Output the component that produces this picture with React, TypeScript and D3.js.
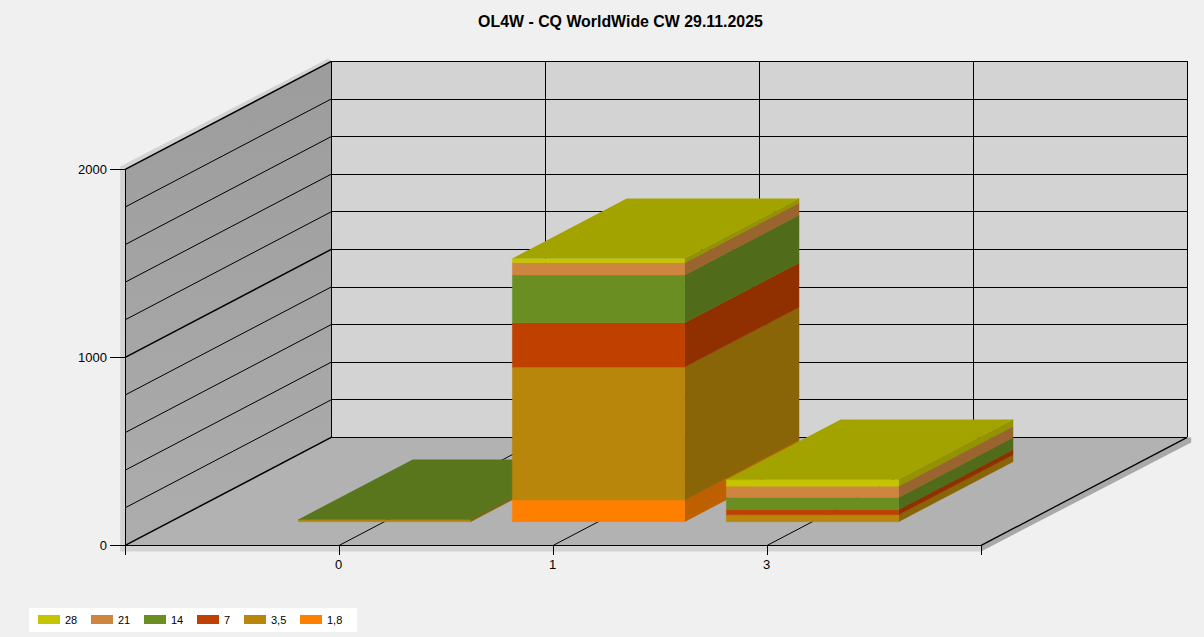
import React from 'react';
import * as d3 from 'd3';

// values
const categories = ['0', '1', '3'];
const bands = ['28', '21', '14', '7', '3,5', '1,8'];
const band18 = [0, 115, 0];
const band35 = [10, 707, 37];
const band7 = [0, 236, 27];
const band14 = [2, 254, 65];
const band21 = [0, 65, 59];
const band28 = [0, 23, 36];
const bandColors = ['#c4c400', '#cd853f', '#6b8e23', '#c04000', '#b8860b', '#ff8000'];
const yTicks = [0, 1000, 2000];
const gridValues = d3.range(0, 2001, 200);

const WIDTH = 1204;
const HEIGHT = 637;
const FONT = '"Liberation Sans", Arial, sans-serif';

// the 3D box: front plane plus a fixed offset to the back plane
const depthX = d3.scaleLinear().domain([0, 1]).range([0, 206]);
const depthY = d3.scaleLinear().domain([0, 1]).range([0, -108]);
const xScale = d3.scaleLinear().domain([-1, 3]).range([125.2, 981.2]);
const yScale = d3.scaleLinear().domain([0, 2000]).range([545.4, 169.4]);

const project = (x: number, v: number, z: number): [number, number] => [
  xScale(x) + depthX(z),
  yScale(v) + depthY(z),
];
const poly = (pts: [number, number][]) => d3.line()(pts) + 'Z';

const BAR_W = 0.805;
const Z0 = 0.22;
const Z1 = 0.775;

const rows = categories.map((c, i) => ({
  cat: i,
  '1,8': band18[i],
  '3,5': band35[i],
  '7': band7[i],
  '14': band14[i],
  '21': band21[i],
  '28': band28[i],
}));
const stackOrder = [...bands].reverse();
const stacked = d3.stack<any>().keys(stackOrder)(rows);
const colorOf = d3.scaleOrdinal<string, string>().domain(bands).range(bandColors);
const shade = (c: string, k: number) => {
  const r = d3.rgb(c);
  return d3.rgb(r.r * k, r.g * k, r.b * k).formatHex();
};

const Bar = ({ cat }: { cat: number }) => {
  const x0 = cat - BAR_W / 2;
  const x1 = cat + BAR_W / 2;
  const segs = stacked
    .map(s => ({ key: s.key, lo: s[cat][0], hi: s[cat][1] }))
    .filter(s => s.hi > s.lo);
  const top = segs[segs.length - 1];
  return (
    <g>
      {segs.map(s => {
        const side = shade(colorOf(s.key), 0.75);
        return (
          <g key={s.key}>
            <path
              d={poly([project(x1, s.lo, Z0), project(x1, s.lo, Z1), project(x1, s.hi, Z1), project(x1, s.hi, Z0)])}
              fill={side}
              stroke={side}
              strokeWidth={0.5}
            />
            <path
              d={poly([project(x0, s.lo, Z0), project(x1, s.lo, Z0), project(x1, s.hi, Z0), project(x0, s.hi, Z0)])}
              fill={colorOf(s.key)}
              stroke={colorOf(s.key)}
              strokeWidth={0.5}
            />
          </g>
        );
      })}
      <path
        d={poly([project(x0, top.hi, Z0), project(x1, top.hi, Z0), project(x1, top.hi, Z1), project(x0, top.hi, Z1)])}
        fill={shade(colorOf(top.key), 0.83)}
      />
    </g>
  );
};

const legendX = [38, 91, 144, 197, 244, 300];

export default function App() {
  const fl = project(-1, 0, 0);
  const fr = project(3, 0, 0);
  const bl = project(-1, 0, 1);
  const br = project(3, 0, 1);
  const tf = project(-1, 2000, 0);
  const tb = project(-1, 2000, 1);
  const tr = project(3, 2000, 1);
  const b = 5;
  const ln = (a: [number, number], c: [number, number], w = 1) => (
    <line
      x1={a[0]}
      y1={a[1]}
      x2={c[0]}
      y2={c[1]}
      stroke="#000"
      strokeWidth={w}
      shapeRendering={a[0] === c[0] || a[1] === c[1] ? 'crispEdges' : undefined}
    />
  );
  return (
    <svg
      width={WIDTH}
      height={HEIGHT}
      style={{ position: 'fixed', left: 0, top: 0, background: '#f0f0f0', fontFamily: FONT }}
    >
      <defs>
        <linearGradient id="wall" x1="0" y1="0" x2="0" y2="1">
          <stop offset="0" stopColor="#9c9c9c" />
          <stop offset="1" stopColor="#adadad" />
        </linearGradient>
      </defs>
      <text x={620.5} y={26.5} textAnchor="middle" fontSize={15.9} fontWeight="bold" fill="#000">
        OL4W - CQ WorldWide CW 29.11.2025
      </text>

      {/* wall thickness */}
      <path
        d={poly([[tf[0] - b, tf[1] - 3], [tb[0] - 3, tb[1] - 3], tb, tf, fl, [fl[0], fl[1] + 6], [fl[0] - b, fl[1] + 6]])}
        fill="#d3d3d3"
      />
      <path d={poly([fl, fr, [fr[0], fr[1] + 6], [fl[0], fl[1] + 6]])} fill="#d3d3d3" />
      <path d={poly([fr, br, [br[0] + 4, br[1]], [br[0] + 4, br[1] + 5], [fr[0], fr[1] + 6]])} fill="#a9a9a9" />

      {/* walls and floor */}
      <path d={poly([bl, tb, tr, br])} fill="#d3d3d3" />
      <path d={poly([fl, tf, tb, bl])} fill="url(#wall)" />
      <path d={poly([fl, fr, br, bl])} fill="#b2b2b2" />

      {/* grid */}
      {gridValues.map(v => (
        <g key={v}>
          {ln(project(-1, v, 0), project(-1, v, 1), v % 1000 === 0 ? 1.5 : 1)}
          {ln(project(-1, v, 1), project(3, v, 1))}
        </g>
      ))}
      {d3.range(0, 3).map(i => (
        <g key={i}>
          {ln(project(i, 0, 0), project(i, 0, 1))}
          {ln(project(i, 0, 1), project(i, 2000, 1))}
        </g>
      ))}
      {ln(bl, tb)}
      {ln(br, [br[0], tr[1]])}
      {ln(fl, tf)}
      {ln(fl, fr, 1)}
      {ln(fr, br, 1.3)}

      {/* axes */}
      {yTicks.map(v => (
        <g key={v}>
          {ln([xScale(-1) - 15, yScale(v)], [xScale(-1), yScale(v)])}
          <text x={107} y={yScale(v) + 4.5} textAnchor="end" fontSize={13} fill="#000">
            {v}
          </text>
        </g>
      ))}
      {d3.range(-1, 4).map(i => (
        <g key={i}>{ln([xScale(i), fl[1]], [xScale(i), fl[1] + 10])}</g>
      ))}
      {categories.map((c, i) => (
        <text key={c} x={xScale(i) - 0.5} y={569} textAnchor="middle" fontSize={13} fill="#000">
          {c}
        </text>
      ))}

      {/* bars */}
      {categories.map((c, i) => (
        <Bar key={c} cat={i} />
      ))}

      {/* legend */}
      <rect x={29} y={608} width={328} height={24} fill="#fff" />
      {bands.map((name, i) => (
        <g key={name}>
          <rect x={legendX[i]} y={615} width={22} height={9} fill={bandColors[i]} />
          <text x={legendX[i] + 27} y={624} fontSize={11} fill="#000">
            {name}
          </text>
        </g>
      ))}
    </svg>
  );
}
